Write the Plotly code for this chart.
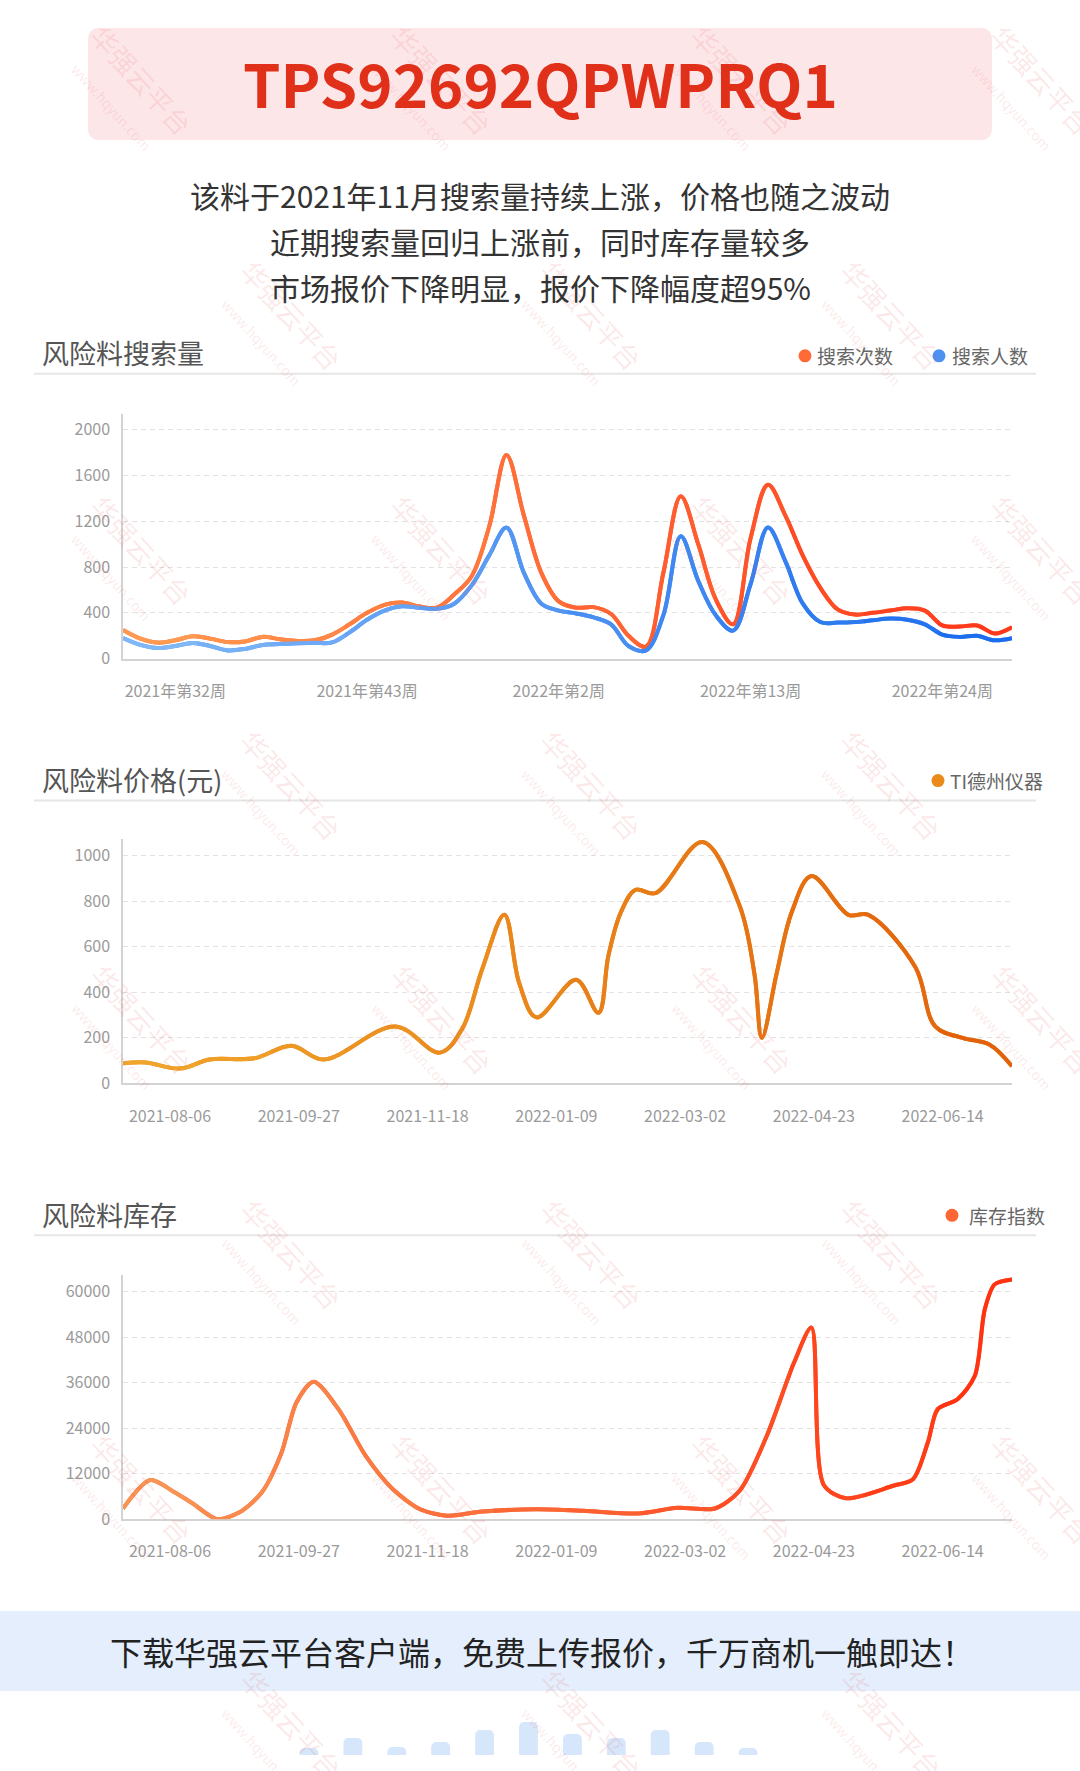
import plotly.graph_objects as go
import pandas as pd

W, H = 1080, 1771
FIG_H = 1781  # the photographed page comes out slightly squeezed; render a touch taller
FONT = 'Noto Sans CJK SC'

# ---- search volume (weekly, 2021 w29 .. 2022 w28)
weeks = [f'2021年第{w}周' for w in range(29, 53)] + [f'2022年第{w}周' for w in range(1, 29)]
week_ticks = ['2021年第32周', '2021年第43周', '2022年第2周', '2022年第13周', '2022年第24周']
search_count = [250, 175, 140, 160, 195, 175, 145, 150, 190, 170, 155, 160, 210, 300, 400, 470, 490, 455,
                445, 560, 720, 1150, 1780, 1250, 750, 500, 445, 450, 390, 200, 105, 750, 1420, 1000, 520,
                300, 1050, 1520, 1250, 900, 620, 430, 385, 400, 420, 440, 420, 290, 280, 290, 220, 275]
search_users = [180, 120, 92, 110, 137, 110, 72, 85, 120, 128, 135, 138, 142, 230, 340, 420, 457, 445,
                435, 480, 640, 900, 1145, 750, 480, 420, 395, 360, 300, 110, 72, 380, 1070, 680, 380,
                245, 650, 1145, 850, 480, 320, 315, 320, 335, 350, 340, 300, 210, 190, 200, 160, 178]

# ---- price (yuan)
price_dates = ['2021-07-18', '2021-07-27', '2021-08-10', '2021-08-22', '2021-09-09', '2021-09-24',
               '2021-10-07', '2021-11-05', '2021-11-23', '2021-12-02', '2021-12-10', '2021-12-19',
               '2021-12-25', '2022-01-01', '2022-01-17', '2022-01-26', '2022-01-30', '2022-02-04',
               '2022-02-10', '2022-02-18', '2022-03-09', '2022-03-24', '2022-03-30', '2022-04-02',
               '2022-04-08', '2022-04-14', '2022-04-22', '2022-05-07', '2022-05-15', '2022-06-03',
               '2022-06-11', '2022-06-22', '2022-07-03', '2022-07-12']
price_values = [88, 92, 65, 105, 110, 165, 105, 250, 135, 240, 500, 740, 440, 290, 455, 310, 560, 750,
                850, 835, 1060, 780, 480, 200, 485, 750, 910, 740, 740, 510, 250, 200, 170, 75]

# ---- stock index
stock_dates = ['2021-07-18', '2021-07-29', '2021-08-08', '2021-08-15', '2021-08-25', '2021-09-03',
               '2021-09-12', '2021-09-20', '2021-09-26', '2021-10-03', '2021-10-13', '2021-10-24',
               '2021-11-04', '2021-11-15', '2021-11-26', '2021-12-10', '2022-01-01', '2022-01-20',
               '2022-02-11', '2022-02-27', '2022-03-14', '2022-03-24', '2022-04-04', '2022-04-15',
               '2022-04-22', '2022-04-27', '2022-05-06', '2022-05-25', '2022-06-02', '2022-06-08',
               '2022-06-12', '2022-06-20', '2022-06-27', '2022-07-01', '2022-07-05', '2022-07-12']
stock_values = [2800, 10300, 7000, 4200, 0, 1800, 7000, 17500, 30700, 36200, 29000, 16700, 7900, 2600,
                900, 2000, 2600, 2200, 1500, 3000, 2800, 7500, 22000, 41300, 50500, 9000, 5500, 8800,
                10500, 20200, 29000, 31600, 37800, 55300, 61900, 63200]

date_ticks = ['2021-08-06', '2021-09-27', '2021-11-18', '2022-01-09', '2022-03-02', '2022-04-23', '2022-06-14']
date_range = ['2021-07-18', '2022-07-12']

# ---- decoration bars under the banner
deco_bars = [7, 17, 8, 13, 25, 33, 21, 17, 25, 13, 7]


def px(x):
    return x / W


def py(y):
    return 1 - y / H


def mix(c0, c1, t):
    a = [int(c0[i:i + 2], 16) for i in (1, 3, 5)]
    b = [int(c1[i:i + 2], 16) for i in (1, 3, 5)]
    return 'rgb({},{},{})'.format(*[round(a[k] + (b[k] - a[k]) * t) for k in range(3)])


X0, X1 = 123, 1012
N_SEG = 12
fig = go.Figure()
axis_no = [4]


# Draw a line with a horizontal colour gradient: same data on narrow, clipped sub-axes.
def gradient_lines(series, xtype, x_lo, x_hi, y_top, y_bot, y_max):
    axis_no[0] += 1
    yid = axis_no[0]
    seg_w = (X1 - X0) / N_SEG
    per_px = (x_hi - x_lo) / (X1 - X0)
    first = None
    for i in range(N_SEG):
        axis_no[0] += 1
        xid = axis_no[0]
        first = first or xid
        a = X0 + i * seg_w
        b = min(X0 + (i + 1) * seg_w + 1.5, X1)
        fig.update_layout({f'xaxis{xid}': dict(domain=[px(a), px(b)], type=xtype, visible=False,
                                               range=[x_lo + (a - X0) * per_px, x_lo + (b - X0) * per_px],
                                               anchor=f'y{yid}', fixedrange=True)})
        t = i / (N_SEG - 1)
        for xs, ys, c0, c1, sm in series:
            fig.add_trace(go.Scatter(x=xs, y=ys, mode='lines', xaxis=f'x{xid}', yaxis=f'y{yid}',
                                     line=dict(color=mix(c0, c1, t), width=4, shape='spline',
                                               smoothing=sm, simplify=False),
                                     hoverinfo='skip', showlegend=False))
    fig.update_layout({f'yaxis{yid}': dict(domain=[py(y_bot), py(y_top)], range=[0, y_max], visible=False,
                                           anchor=f'x{first}', fixedrange=True)})


def ms(d):
    return pd.Timestamp(d).value / 1e6


# main subplots (axes + grid) with a base line under the gradient pieces
fig.add_trace(go.Scatter(x=weeks, y=search_count, mode='lines', line=dict(color='#FF6A37', width=4, shape='spline'),
                         hoverinfo='skip', showlegend=False))
fig.add_trace(go.Scatter(x=weeks, y=search_users, mode='lines', line=dict(color='#4E92F1', width=4, shape='spline'),
                         hoverinfo='skip', showlegend=False))
fig.add_trace(go.Scatter(x=price_dates, y=price_values, mode='lines', xaxis='x2', yaxis='y2',
                         line=dict(color='#EA8A1A', width=4, shape='spline'), hoverinfo='skip', showlegend=False))
fig.add_trace(go.Scatter(x=stock_dates, y=stock_values, mode='lines', xaxis='x3', yaxis='y3',
                         line=dict(color='#FC6534', width=4, shape='spline', smoothing=0.8),
                         hoverinfo='skip', showlegend=False))

gradient_lines([(weeks, search_count, '#FF9A50', '#FF391C', 1),
                (weeks, search_users, '#80B8F6', '#1C6CEE', 1)],
               'category', 0, len(weeks) - 1, 414, 659, 2140)
gradient_lines([(price_dates, price_values, '#F0A42A', '#E2620C', 1)],
               'date', ms(date_range[0]), ms(date_range[1]), 839, 1084, 1075)
gradient_lines([(stock_dates, stock_values, '#F89454', '#FF3312', 0.8)],
               'date', ms(date_range[0]), ms(date_range[1]), 1276, 1520, 64300)

fig.add_trace(go.Bar(x=list(range(len(deco_bars))), y=deco_bars, xaxis='x4', yaxis='y4', width=0.43,
                     marker=dict(color='#D7E7FB', cornerradius=5, line=dict(width=0)),
                     hoverinfo='skip', showlegend=False))

tick_font = dict(family=FONT, size=16, color='#9A9A9A')
x_common = dict(showgrid=False, showline=True, linecolor='#D3D3D3', linewidth=2, ticks='',
                tickfont=tick_font, ticklabelstandoff=17, fixedrange=True, domain=[px(X0), px(X1)])
y_common = dict(showgrid=True, gridcolor='#E2E2E2', griddash='5px,4px', gridwidth=1, zeroline=False,
                showline=True, linecolor='#D3D3D3', linewidth=1.5, ticks='', tickfont=tick_font,
                ticklabelstandoff=8, fixedrange=True, tick0=0, tickformat='d')

fig.update_layout(
    xaxis=dict(x_common, type='category', categoryarray=weeks, range=[0, len(weeks) - 1],
               tickmode='array', tickvals=week_ticks, anchor='y'),
    yaxis=dict(y_common, domain=[py(659), py(414)], range=[0, 2140], dtick=400, anchor='x'),
    xaxis2=dict(x_common, type='date', range=date_range, tickmode='array', tickvals=date_ticks,
                ticktext=date_ticks, anchor='y2'),
    yaxis2=dict(y_common, domain=[py(1084), py(839)], range=[0, 1075], dtick=200, anchor='x2'),
    xaxis3=dict(x_common, type='date', range=date_range, tickmode='array', tickvals=date_ticks,
                ticktext=date_ticks, anchor='y3'),
    yaxis3=dict(y_common, domain=[py(1520), py(1276)], range=[0, 64300], dtick=12000, anchor='x3'),
    xaxis4=dict(domain=[px(287), px(770)], range=[-0.5, len(deco_bars) - 0.5], visible=False,
                anchor='y4', fixedrange=True),
    yaxis4=dict(domain=[py(1756), py(1723)], range=[0, max(deco_bars)], visible=False,
                anchor='x4', fixedrange=True),
)

shapes = []
ann = []


def text(x, y, s, size, color, xanchor='center', **kw):
    ann.append(dict(x=px(x), y=py(y), xref='paper', yref='paper', text=s, showarrow=False,
                    xanchor=xanchor, yanchor='middle', font=dict(family=FONT, size=size, color=color), **kw))


# watermark
for r in range(8):
    for c in range(4):
        text(130 + c * 300 + (r % 2) * 150, 90 + r * 235,
             '华强云平台<br><span style="font-size:14px">www.hqyun.com</span>', 27,
             'rgba(228,80,80,0.13)', textangle=48)

# header box with rounded corners
x0, x1, y0, y1, rad = 88, 992, 28, 140, 12
rx, ry = rad / W, rad / H
L, R, T, B = px(x0), px(x1), py(y0), py(y1)
shapes.append(dict(type='path', xref='paper', yref='paper', fillcolor='#FDE6E8', line=dict(width=0), layer='below',
                   path=f'M {L + rx} {T} L {R - rx} {T} Q {R} {T} {R} {T - ry} L {R} {B + ry} Q {R} {B} {R - rx} {B} '
                        f'L {L + rx} {B} Q {L} {B} {L} {B + ry} L {L} {T - ry} Q {L} {T} {L + rx} {T} Z'))
text(540, 82, '<b>TPS92692QPWPRQ1</b>', 60, '#E1301A')

for line, yy in [('该料于2021年11月搜索量持续上涨，价格也随之波动', 195),
                 ('近期搜索量回归上涨前，同时库存量较多', 241),
                 ('市场报价下降明显，报价下降幅度超95%', 287)]:
    text(540, yy, line, 30, '#333333')

# section headers, separators, legends
for title, ty, sep in [('风险料搜索量', 353, 374), ('风险料价格(元)', 780, 801), ('风险料库存', 1215, 1236)]:
    text(40, ty, title, 27, '#555555', xanchor='left')
    shapes.append(dict(type='line', xref='paper', yref='paper', x0=px(34), x1=px(1036), y0=py(sep), y1=py(sep),
                       line=dict(color='#E6E6E6', width=2)))

for label, dx, dy, tx, col in [('搜索次数', 805, 356, 815, '#FF6A37'), ('搜索人数', 939, 356, 950, '#4E92F1'),
                               ('TI德州仪器', 938, 781, 948, '#EA8A1A'), ('库存指数', 952, 1216, 967, '#FC6534')]:
    shapes.append(dict(type='circle', xref='paper', yref='paper', x0=px(dx - 6.5), x1=px(dx + 6.5),
                       y0=py(dy + 6.5), y1=py(dy - 6.5), fillcolor=col, line=dict(width=0)))
    text(tx, dy, label, 19, '#666666', xanchor='left')

# bottom banner
shapes.append(dict(type='rect', xref='paper', yref='paper', x0=0, x1=1, y0=py(1692), y1=py(1612),
                   fillcolor='#E4EEFC', line=dict(width=0), layer='below'))
text(542, 1652, '下载华强云平台客户端，免费上传报价，千万商机一触即达！', 32, '#222222')

fig.update_layout(width=W, height=FIG_H, autosize=False, margin=dict(l=0, r=0, t=0, b=0),
                  paper_bgcolor='white', plot_bgcolor='rgba(0,0,0,0)', showlegend=False,
                  shapes=shapes, annotations=ann, font=dict(family=FONT))

fig.write_html('out.html', config={'displayModeBar': False, 'responsive': False},
               post_script="document.body.style.margin='0';")
